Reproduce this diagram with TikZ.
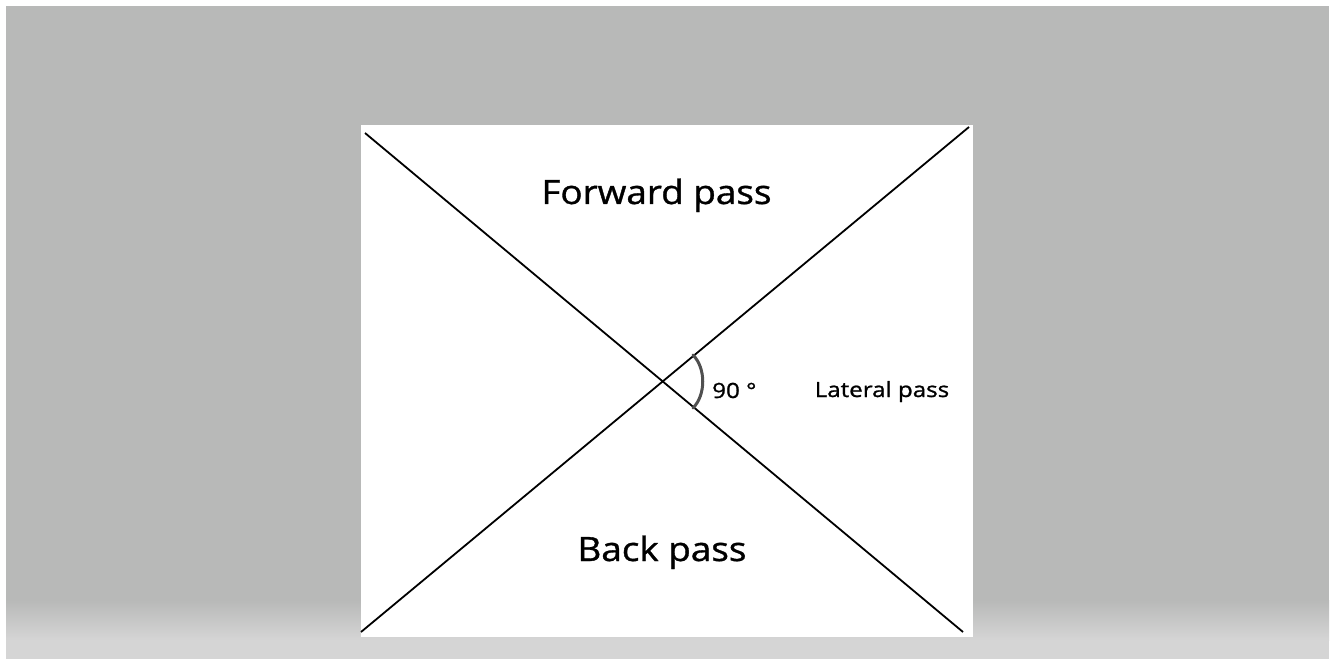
\documentclass[tikz,border=0pt]{standalone}
\usepackage{fontspec}
\setmainfont{Open Sans}
\newfontfamily\passfont{Open Sans}[FakeBold=1]
\usepackage{tikz}
\usetikzlibrary{positioning}
\definecolor{wallgray}{RGB}{184,185,184}
\definecolor{floorgray}{RGB}{213,213,213}
\definecolor{markgray}{RGB}{80,80,80}

\begin{document}
\begin{tikzpicture}[
    x=1pt, y=-1pt,
    passline/.style={draw, black, line width=1.8pt},
    bigtext/.style={font=\passfont\fontsize{33.5}{36}\selectfont, inner sep=0pt, xscale=1.1},
    smalltext/.style={font=\passfont\fontsize{21}{23}\selectfont, inner sep=0pt, xscale=1.15}
]
\useasboundingbox (0,0) rectangle (1339,660);
\fill[white] (0,0) rectangle (1339,660);
\fill[wallgray] (6,6) rectangle (1329,600);
\shade[top color=wallgray, bottom color=floorgray] (6,600) rectangle (1329,640);
\fill[floorgray] (6,640) rectangle (1329,659);
\fill[white] (361,125) rectangle (973,637);

\coordinate (tl) at (365,133);
\coordinate (br) at (963,632);
\coordinate (tr) at (969,127);
\coordinate (bl) at (361,632);
\coordinate (arcA) at (693,355);
\coordinate (arcB) at (693,408);

\draw[passline] (tl) -- (br);
\draw[passline] (tr) -- (bl);
\draw[markgray, line width=3pt, line cap=round]
    (arcA) .. controls (706,368) and (706,395) .. (arcB);

\node[bigtext, anchor=base] (fwd) at (656.5,204) {Forward pass};
\node[bigtext, anchor=base] (back) at (662,561) {Back pass};
\node[smalltext, anchor=base] (lat) at (882,397) {Lateral pass};
\node[smalltext, anchor=base west] (deg) at (712,398) {90 °};
\end{tikzpicture}
\end{document}
